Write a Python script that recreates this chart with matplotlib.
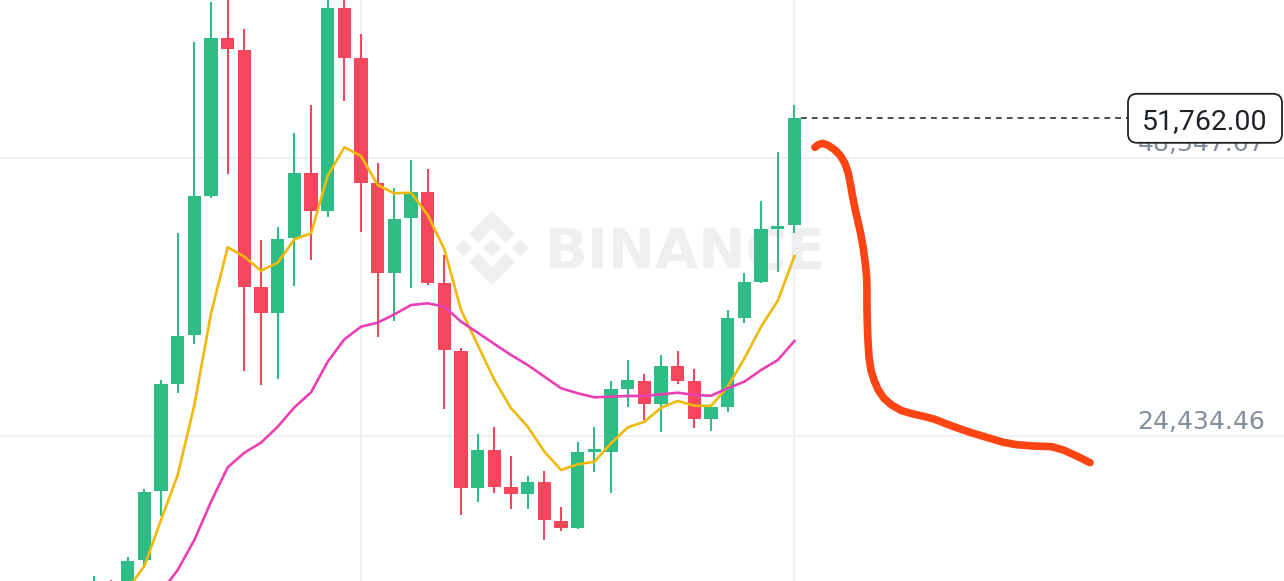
import numpy as np
import matplotlib.pyplot as plt
from matplotlib.patches import Polygon, FancyBboxPatch
from matplotlib import transforms

# OHLC candles (price), left to right
opens = [10330, 11190, 10500, 13770, 19700, 28910, 33100, 45100, 58700, 57640,
         37230, 35040, 41440, 47060, 43810, 61250, 56920, 46170, 38430, 43160,
         45450, 37620, 31770, 19940, 23230, 20020, 19420, 20450, 17120, 16500,
         23080, 23080, 28450, 29190, 27190, 30460, 29190, 25920, 26960, 34610,
         37710, 42270, 42580]
highs = [12430, 12090, 14050, 19850, 29250, 41870, 58300, 61790, 62800, 59440,
         41290, 42390, 50470, 52880, 62630, 62970, 59040, 47940, 45790, 48180,
         47400, 40000, 31980, 24610, 25180, 22740, 21020, 21420, 18300, 23890,
         25230, 29170, 30970, 29770, 31400, 31770, 30200, 27190, 35270, 38430,
         44650, 48890, 52910]
lows = [9470, 9040, 9900, 13190, 17580, 28110, 32320, 44930, 46950, 30030,
        28820, 29310, 37340, 39570, 43270, 53250, 42010, 32920, 34330, 37140,
        37420, 26730, 17640, 18780, 19510, 18130, 18180, 15490, 16260, 16450,
        21310, 19560, 26900, 25810, 24750, 28880, 25150, 24860, 26520, 34130,
        37620, 38570, 41870]
closes = [11700, 9900, 13710, 19640, 28880, 33040, 45080, 58700, 57700, 37280,
          35040, 41410, 47060, 43810, 61250, 56920, 46220, 38430, 43100, 45450,
          37620, 31830, 19940, 23230, 20020, 19420, 20450, 17180, 16500, 23080,
          23290, 28450, 29230, 27190, 30460, 29190, 25920, 26960, 34610, 37710,
          42210, 42500, 51762.00]

ma7 = [8610, 9900, 11270, 13250, 17210, 21080, 27100, 34990, 40670, 39860,
       38650, 39340, 41350, 41870, 46830, 49270, 48520, 46030, 45310, 45360,
       43440, 40490, 35270, 32260, 29250, 26820, 25230, 23080, 21510, 22000,
       22220, 23810, 25180, 25660, 26870, 27450, 27040, 27020, 28680, 31120,
       33840, 36070, 39920]
ma25 = [2590, 4740, 6890, 9040, 11020, 12910, 15490, 18780, 21740, 23000,
        23860, 25230, 26900, 28190, 30830, 32750, 33840, 34180, 34900, 35700,
        35850, 35560, 34270, 33320, 32350, 31400, 30540, 29540, 28540, 28110,
        27760, 27820, 27880, 27880, 28020, 28160, 27960, 27900, 28540, 29110,
        30110, 30970, 32610]

# hand-drawn forecast stroke (bar index, price)
sketch_x = [43.23, 43.43, 43.69, 44.03, 44.43, 44.77, 45.03, 45.23, 45.37, 45.49,
            45.63, 45.79, 45.97, 46.13, 46.25, 46.33, 46.35, 46.35, 46.37, 46.41,
            46.47, 46.59, 46.77, 47.03, 47.37, 47.83, 48.43, 49.13, 49.83, 50.43,
            51.13, 51.73, 52.53, 53.53, 54.53, 55.33, 56.33, 57.43, 58.13, 58.93,
            59.73]
sketch_y = [49265, 49495, 49609, 49437, 49036, 48520, 47889, 47029, 46025, 45021,
            44018, 43014, 41868, 40577, 39287, 38140, 36993, 35559, 34125, 32692,
            31258, 30112, 29251, 28391, 27674, 27101, 26613, 26327, 26097, 25868,
            25466, 25151, 24750, 24320, 23890, 23689, 23574, 23516, 23230, 22714,
            22140]

price_ticks = [24434.46, 48347.67]
vgrid_bars = [16, 42]

GREEN = '#2ebd85'
RED = '#f6465d'
GRID = '#eceef1'
WM = '#eeeff1'

W, H = 1284, 581
fig = plt.figure(figsize=(W / 100, H / 100), dpi=100)
ax = fig.add_axes([0, 0, 1, 1])
ax.set_xlim(-5.66, 71.37)
ax.set_ylim(11961, 61939)
for s in ax.spines.values():
    s.set_visible(False)
ax.set_xticks(vgrid_bars)
ax.set_yticks(price_ticks)
ax.tick_params(length=0, labelbottom=False, labelleft=False)
ax.grid(True, color=GRID, lw=1.2, zorder=0)
ax.set_axisbelow(True)

# pixel coords (origin top-left) for the watermark
px = transforms.Affine2D().scale(1 / W, -1 / H).translate(0, 1) + fig.transFigure

cx, cy = 492, 248
logo = [
    [(0, 37), (23, 14), (14, 5), (0, 19), (-14, 5), (-23, 14)],
    [(0, -37), (23, -14), (14, -5), (0, -19), (-14, -5), (-23, -14)],
    [(0, 8.5), (8.5, 0), (0, -8.5), (-8.5, 0)],
    [(-28.5, 8.3), (-20.2, 0), (-28.5, -8.3), (-36.8, 0)],
    [(28.5, 8.3), (36.8, 0), (28.5, -8.3), (20.2, 0)],
]
for shape in logo:
    pts = [(cx + a, cy - b) for a, b in shape]
    ax.add_patch(Polygon(pts, closed=True, fc=WM, ec='none', transform=px, zorder=0.5))
ax.text(545, 268, 'BINANCE', transform=px, ha='left', va='baseline',
        fontsize=40.5, fontweight='bold', color=WM, zorder=0.5)

# candles
x = np.arange(len(opens))
o, h, l, c = map(np.array, (opens, highs, lows, closes))
col = np.where(c >= o, GREEN, RED)
ax.vlines(x, l, h, colors=col, lw=1.5, zorder=2)
body_lo = np.minimum(o, c)
body_h = np.maximum(np.abs(c - o), 120)
ax.bar(x, body_h, bottom=body_lo, width=0.8, color=col, zorder=2.1)

ax.plot(x, ma7, color='#f0b90b', lw=1.9, zorder=3)
ax.plot(x, ma25, color='#eb40b5', lw=1.9, zorder=3)

# price labels on the grid lines
ylab = transforms.blended_transform_factory(ax.transAxes, ax.transData)
ylab = transforms.offset_copy(ylab, fig=fig, y=7, units='dots')
for p in price_ticks:
    ax.text(1265 / W, p, f'{p:,.2f}', transform=ylab, ha='right', va='baseline',
            fontsize=18, color='#848e9c', zorder=4)

# last price line + tag
xmin, xmax = ax.get_xlim()
box_left = xmin + (1128 / W) * (xmax - xmin)
ax.hlines(closes[-1], x[-1] + 0.4, box_left, colors='#2b3139', lw=1.2,
          linestyles=(0, (3.5, 3)), zorder=4)
tag = transforms.blended_transform_factory(ax.transAxes, ax.transData)
anchor = transforms.Affine2D() + transforms.ScaledTranslation(1205 / W, closes[-1], tag)
ax.add_patch(FancyBboxPatch((-77, -24.5), 154, 49,
                            boxstyle='round,pad=0,rounding_size=9',
                            fc='white', ec='#1e2329', lw=1.3,
                            transform=anchor, zorder=6, clip_on=False))
ax.text(1205 / W, closes[-1], f'{closes[-1]:,.2f}', transform=tag, ha='center',
        va='center_baseline', fontsize=20.5, family='Roboto', color='#1e2329',
        zorder=7)

ax.plot(sketch_x, sketch_y, color='#fd4514', lw=5.5, solid_capstyle='round',
        solid_joinstyle='round', zorder=5)

fig.savefig('out.png', dpi=100)
